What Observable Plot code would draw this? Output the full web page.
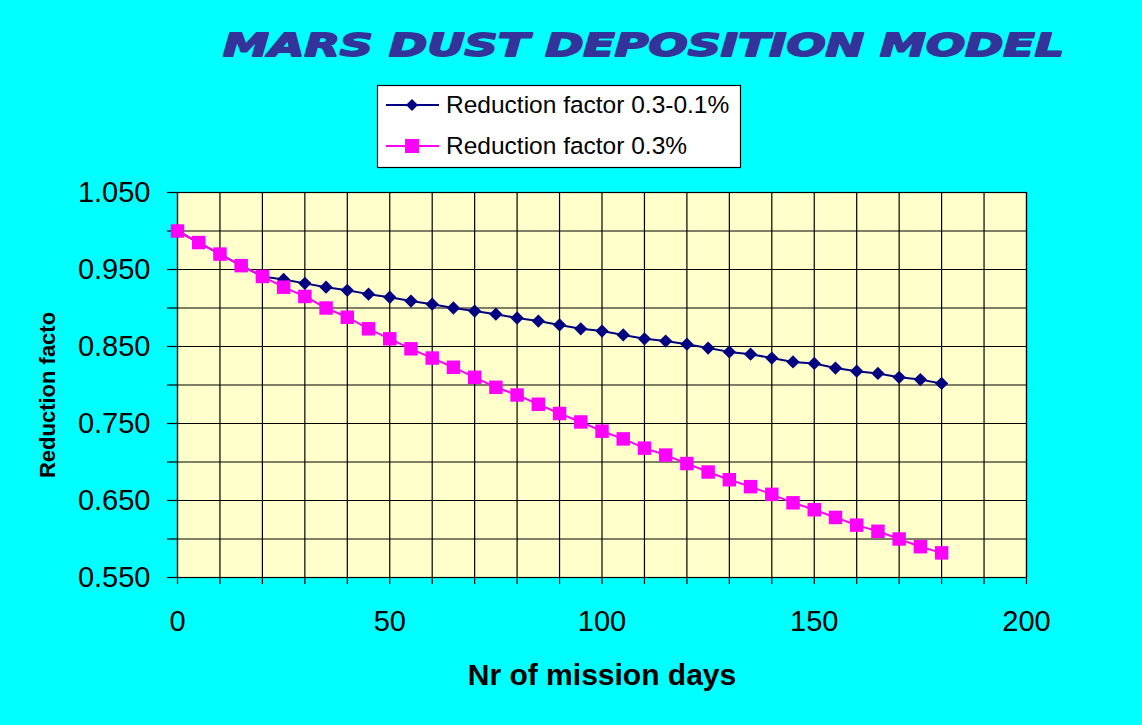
<!DOCTYPE html>
<html><head><meta charset="utf-8">
<script src="https://cdn.jsdelivr.net/npm/d3@7"></script>
<script src="https://cdn.jsdelivr.net/npm/@observablehq/plot@0.6"></script>
<style>
html,body{margin:0;padding:0;}
body{background:#00FFFF;width:1142px;height:725px;overflow:hidden;position:relative;font-family:"Liberation Sans",Arial,sans-serif;}
#chart{position:absolute;left:0;top:0;}
#overlay{position:absolute;left:0;top:0;pointer-events:none;}
</style></head><body>
<div id="chart"></div>
<svg id="overlay" width="1142" height="725" xmlns="http://www.w3.org/2000/svg">
  <text id="title" x="223" y="56" textLength="841" lengthAdjust="spacingAndGlyphs"
    font-family="'DejaVu Sans', sans-serif" font-weight="bold" font-style="italic" font-size="32" fill="#333399" stroke="#333399" stroke-width="1.8" stroke-linejoin="round">MARS DUST DEPOSITION MODEL</text>
  <g id="legend"></g>
  <text x="602" y="685" text-anchor="middle" font-family="'Liberation Sans', Arial, sans-serif" font-weight="bold" font-size="30" fill="#000">Nr of mission days</text>
  <text transform="translate(55,395) rotate(-90)" text-anchor="middle" font-family="'Liberation Sans', Arial, sans-serif" font-weight="bold" font-size="22" fill="#000">Reduction facto</text>
</svg>
<script>
// ---- data ----
const days = [0,5,10,15,20,25,30,35,40,45,50,55,60,65,70,75,80,85,90,95,100,105,110,115,120,125,130,135,140,145,150,155,160,165,170,175,180];
const factorMixed = [1.000,0.985,0.970,0.955,0.941,0.937,0.932,0.927,0.923,0.918,0.914,0.909,0.905,0.900,0.896,0.892,0.887,0.883,0.878,0.873,0.870,0.865,0.860,0.857,0.853,0.848,0.843,0.840,0.835,0.830,0.828,0.822,0.818,0.815,0.810,0.807,0.802];
const factorConst = [1.000,0.985,0.970,0.955,0.941,0.927,0.915,0.900,0.888,0.873,0.860,0.847,0.835,0.823,0.810,0.797,0.787,0.775,0.763,0.752,0.740,0.730,0.718,0.709,0.698,0.687,0.677,0.668,0.658,0.647,0.638,0.628,0.618,0.610,0.600,0.590,0.582];
const seriesNames = ["Reduction factor 0.3-0.1%", "Reduction factor 0.3%"];
const seriesColors = ["#000080", "#FF00FF"];
const xTickLabels = [0, 50, 100, 150, 200];
const xGridTicks = [0,10,20,30,40,50,60,70,80,90,100,110,120,130,140,150,160,170,180,190,200];
const yTickLabels = [0.55, 0.65, 0.75, 0.85, 0.95, 1.05];
const yGridTicks = [0.55,0.60,0.65,0.70,0.75,0.80,0.85,0.90,0.95,1.00,1.05];

const dataMixed = days.map((d, i) => ({day: d, value: factorMixed[i]}));
const dataConst = days.map((d, i) => ({day: d, value: factorConst[i]}));

const plot = Plot.plot({
  width: 1142, height: 725,
  marginLeft: 177, marginRight: 116, marginTop: 192, marginBottom: 148,
  style: {background: "transparent", fontFamily: "'Liberation Sans', Arial, sans-serif", color: "#000", overflow: "visible"},
  x: {domain: [0, 200]},
  y: {domain: [0.55, 1.05]},
  marks: [
    Plot.frame({fill: "#FFFFCC", stroke: null}),
    Plot.ruleX(xGridTicks, {stroke: "#000", strokeWidth: 1.2}),
    Plot.ruleY(yGridTicks, {stroke: "#000", strokeWidth: 1.2}),
    Plot.frame({stroke: "#000", strokeWidth: 1.2}),
    Plot.axisY(yGridTicks, {tickSize: 10, tickFormat: () => "", label: null, stroke: "#000", strokeWidth: 1.2}),
    Plot.axisY(yTickLabels, {tickSize: 0, tickPadding: 27, tickFormat: d3.format(".3f"), fontSize: 29, label: null, fill: "#000"}),
    Plot.axisX(xGridTicks, {tickSize: 7, tickFormat: () => "", label: null, stroke: "#000", strokeWidth: 1.2}),
    Plot.axisX(xTickLabels, {tickSize: 0, tickPadding: 33, fontSize: 29, label: null, fill: "#000"}),
    Plot.line(dataMixed, {x: "day", y: "value", stroke: seriesColors[0], strokeWidth: 2}),
    Plot.line(dataConst, {x: "day", y: "value", stroke: seriesColors[1], strokeWidth: 2}),
    Plot.dot(dataMixed, {x: "day", y: "value", symbol: "diamond2", r: 6, fill: seriesColors[0], stroke: null}),
    Plot.dot(dataConst, {x: "day", y: "value", symbol: "square", r: 7.6, fill: seriesColors[1], stroke: null})
  ]
});
document.getElementById("chart").appendChild(plot);

// ---- legend ----
const ns = "http://www.w3.org/2000/svg";
const lg = document.getElementById("legend");
function el(tag, attrs, text) {
  const e = document.createElementNS(ns, tag);
  for (const k in attrs) e.setAttribute(k, attrs[k]);
  if (text) e.textContent = text;
  lg.appendChild(e);
  return e;
}
el("rect", {x: 377.5, y: 85.5, width: 363, height: 82, fill: "#FFFFFF", stroke: "#000", "stroke-width": 1.2});
const rows = [105, 146];
rows.forEach((cy, i) => {
  el("line", {x1: 386, x2: 439, y1: cy, y2: cy, stroke: seriesColors[i], "stroke-width": 2});
  if (i === 0) el("path", {d: `M412,${cy-6}L418,${cy}L412,${cy+6}L406,${cy}Z`, fill: seriesColors[i]});
  else el("rect", {x: 405, y: cy - 7, width: 14, height: 14, fill: seriesColors[i]});
  el("text", {x: 446, y: cy + 8, "font-family": "'Liberation Sans', Arial, sans-serif", "font-size": 24.5, fill: "#000"}, seriesNames[i]);
});
</script>
</body></html>
